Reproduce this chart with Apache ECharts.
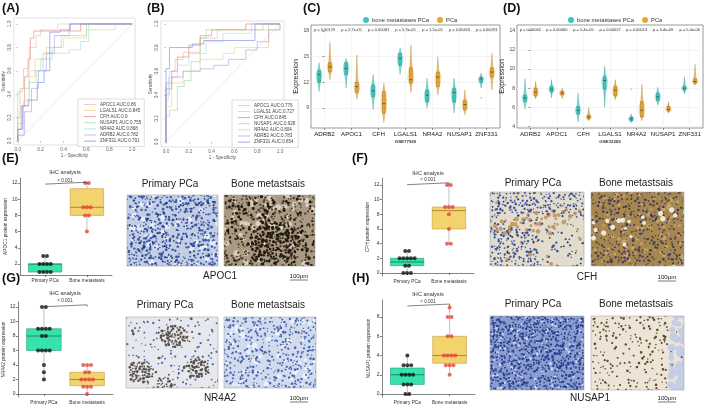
<!DOCTYPE html>
<html>
<head>
<meta charset="utf-8">
<script src="https://cdn.jsdelivr.net/npm/echarts@6/dist/echarts.min.js"></script>
<style>html,body{margin:0;padding:0;background:#fff}#main{width:709px;height:408px}</style>
</head>
<body>
<div id="main"></div>
<script>
var FONT = 'Liberation Sans, Arial, sans-serif';

// ---- ROC (A: GSE77930, B: GSE32269) ----
var rocGenes = ['APOC1', 'LGALS1', 'CFH', 'NUSAP1', 'NR4A2', 'ADRB2', 'ZNF331'];
var rocColors = ['#f5b39a', '#f3cc7c', '#ec7a74', '#9ad892', '#a3dbeb', '#b09be0', '#7482e2'];
var aucA = ['0.86', '0.845', '0.9', '0.755', '0.868', '0.782', '0.791'];
var aucB = ['0.776', '0.727', '0.845', '0.928', '0.804', '0.783', '0.854'];
var rocTicks = [0, 0.2, 0.4, 0.6, 0.8, 1];
var rocA_fpr = [
  [0, 0, 0.02, 0.05, 0.1, 0.16, 0.2, 0.35, 1],
  [0, 0, 0.05, 0.1, 0.15, 0.25, 0.4, 0.6, 0.85, 1],
  [0, 0, 0.03, 0.06, 0.09, 0.11, 0.14, 0.55, 1],
  [0, 0, 0.04, 0.1, 0.16, 0.22, 0.3, 0.38, 0.6, 1],
  [0, 0, 0.05, 0.1, 0.2, 0.3, 0.45, 0.55, 0.62, 1],
  [0, 0, 0.06, 0.12, 0.18, 0.25, 0.32, 0.45, 1],
  [0, 0, 0.04, 0.09, 0.17, 0.23, 0.28, 0.37, 0.46, 1]
];
var rocA_tpr = [
  [0, 0.2, 0.45, 0.62, 0.8, 0.9, 0.95, 1, 1],
  [0, 0.05, 0.3, 0.55, 0.7, 0.8, 0.88, 0.95, 1, 1],
  [0, 0.1, 0.3, 0.55, 0.7, 0.88, 0.94, 1, 1],
  [0, 0.42, 0.45, 0.5, 0.6, 0.75, 0.8, 0.9, 1, 1],
  [0, 0.15, 0.35, 0.6, 0.7, 0.75, 0.78, 0.85, 1, 1],
  [0, 0.05, 0.25, 0.45, 0.6, 0.75, 0.9, 1, 1],
  [0, 0.1, 0.3, 0.35, 0.5, 0.6, 0.93, 0.95, 1, 1]
];
var rocB_fpr = [
  [0, 0, 0.03, 0.08, 0.15, 0.3, 0.45, 0.9, 1],
  [0, 0, 0.05, 0.15, 0.3, 0.5, 0.6, 0.9, 1],
  [0, 0, 0.05, 0.1, 0.2, 0.3, 0.4, 0.7, 1],
  [0, 0, 0.03, 0.1, 0.16, 0.22, 0.3, 0.35, 0.85, 1],
  [0, 0, 0.02, 0.1, 0.2, 0.35, 0.5, 0.75, 1],
  [0, 0, 0.05, 0.15, 0.3, 0.42, 0.55, 0.7, 0.8, 0.9, 1],
  [0, 0, 0.03, 0.23, 0.33, 0.78, 1]
];
var rocB_tpr = [
  [0, 0.4, 0.6, 0.7, 0.76, 0.88, 0.95, 1, 1],
  [0, 0.3, 0.5, 0.6, 0.7, 0.75, 0.8, 0.95, 1],
  [0, 0.45, 0.6, 0.72, 0.82, 0.9, 0.95, 1, 1],
  [0, 0.22, 0.27, 0.47, 0.52, 0.68, 0.88, 0.95, 1, 1],
  [0, 0.35, 0.55, 0.65, 0.75, 0.85, 0.92, 1, 1],
  [0, 0.5, 0.55, 0.6, 0.62, 0.65, 0.7, 0.78, 0.85, 0.95, 1],
  [0, 0.62, 0.8, 0.83, 0.86, 1, 1]
];

// ---- violin panels (C: GSE77930, D: GSE32269), [min, q1, median, q3, max] ----
var genes = ['ADRB2', 'APOC1', 'CFH', 'LGALS1', 'NR4A2', 'NUSAP1', 'ZNF331'];
var groupNames = ['bone metastases PCa', 'PCa'];
var pC = ['p = 0.00129', 'p = 2.7e-05', 'p = 0.00081', 'p = 5.9e-05', 'p = 1.5e-05', 'p = 0.00416', 'p = 0.00093'];
var pD = ['p = 0.00062', 'p = 0.00060', 'p = 5.4e-05', 'p = 0.00027', 'p = 0.00013', 'p = 5.4e-09', 'p = 5.4e-06'];
var cBone = [[10.9, 12.0, 12.9, 13.4, 14.3], [11.3, 12.9, 13.6, 14.3, 14.8], [8.8, 10.3, 11.0, 11.7, 12.9],
  [12.9, 14.0, 14.8, 15.4, 16.0], [9.0, 9.7, 10.5, 11.1, 12.5], [8.4, 9.7, 10.8, 11.3, 12.5], [11.3, 12.0, 12.4, 12.6, 13.1]];
var cPca = [[12.3, 13.2, 13.8, 14.3, 16.7], [10.0, 10.8, 11.5, 12.0, 15.2], [7.3, 8.4, 9.5, 10.9, 11.9],
  [10.8, 11.9, 12.3, 13.7, 16.4], [10.5, 11.5, 12.6, 13.2, 15.0], [8.2, 8.8, 9.4, 9.9, 11.1], [11.1, 12.6, 13.2, 13.7, 15.4]];
var dBone = [[5.8, 6.6, 7.0, 7.3, 9.0], [7.0, 7.6, 7.9, 8.2, 8.9], [4.5, 5.3, 5.7, 6.1, 7.5],
  [6.0, 7.9, 8.8, 9.2, 10.3], [4.4, 4.6, 4.8, 5.0, 5.3], [6.2, 6.7, 7.1, 7.5, 8.1], [7.4, 7.8, 8.0, 8.2, 9.2]];
var dPca = [[6.9, 7.2, 7.6, 8.0, 8.7], [6.9, 7.3, 7.5, 7.7, 8.0], [4.6, 4.8, 5.0, 5.2, 6.0],
  [6.8, 7.2, 7.8, 8.2, 8.9], [4.6, 5.0, 5.7, 6.6, 8.4], [5.4, 5.6, 5.8, 6.1, 6.6], [8.3, 8.5, 8.7, 9.0, 10.5]];
var cBoneOut = [[6, 10.2]];
var dBoneOut = [[4, 7.9]];
var cTicks = [9, 12, 15, 18];
var dTicks = [4, 6, 8, 10, 12, 14];

// ---- IHC panels (E-H) ----
var ihcGroups = ['Primary PCa', 'Bone metastasis'];
var ePrim = [3, 3, 2, 2, 2, 2, 1, 1, 1, 1];
var eBone = [12, 12, 9, 9, 9, 8, 8, 6];
var eBox = [[1, 1, 2, 2, 3], [6, 8, 9, 11.3, 12]];
var fPrim = [3, 3, 2, 2, 2, 2, 2, 1, 1, 0, 0, 0];
var fBone = [12, 12, 9, 9, 9, 8, 6, 4, 4];
var fBox = [[0, 1, 1.5, 2, 3], [4, 6, 8.5, 9, 12]];
var gPrim = [12, 12, 9, 9, 9, 9, 8, 8, 6, 6, 6, 6, 4, 3, 2];
var gBone = [4, 4, 4, 3, 3, 2, 2, 2, 2, 1, 1, 1, 0];
var gBox = [[2, 6, 8, 9, 12], [0, 1.15, 2, 3, 4]];
var hPrim = [4, 3, 3, 3, 2, 2, 2, 2, 1, 1, 1, 0, 0];
var hBone = [9, 8, 8, 6, 6, 4, 4, 4, 4, 3, 3, 3, 2];
var hBox = [[0, 1, 2, 2.7, 4], [2, 3.2, 4, 6, 9]];
var sigLevel = [12.1, 12.3, 12.3, 9.35];
var ticks12 = [2, 4, 6, 8, 10, 12];
var ticks12z = [0, 2, 4, 6, 8, 10, 12];
var ticks8 = [0, 2, 4, 6, 8];

var chart = echarts.init(document.getElementById('main'));

var grids = [
  { left: 10, top: 18, width: 125, height: 127, show: true, borderColor: '#cfcfcf', borderWidth: 0.6 },
  { left: 161, top: 21, width: 123, height: 126, show: true, borderColor: '#cfcfcf', borderWidth: 0.6 },
  { left: 311, top: 25, width: 189, height: 103, show: true, borderColor: '#555', borderWidth: 0.6 },
  { left: 517, top: 25, width: 186, height: 103, show: true, borderColor: '#555', borderWidth: 0.6 },
  { left: 20, top: 178, width: 92, height: 97 },
  { left: 382, top: 178, width: 92, height: 98 },
  { left: 18, top: 302, width: 95, height: 95 },
  { left: 382, top: 300, width: 93, height: 97 }
];

function rocX(g, min, max) {
  return {
    type: 'value', gridIndex: g, min: min, max: max,
    axisLine: { show: false }, splitLine: { show: false },
    axisTick: { show: true, customValues: rocTicks, length: 2, lineStyle: { color: '#999', width: 0.5 } },
    axisLabel: { customValues: rocTicks, fontSize: 4.8, color: '#666', margin: 2, fontFamily: FONT,
      formatter: function (v) { return v.toFixed(1); } },
    name: '1 - Specificity', nameLocation: 'middle', nameGap: 7,
    nameTextStyle: { fontSize: 4.6, color: '#555', fontFamily: FONT }
  };
}
function rocY(g, min, max) {
  return {
    type: 'value', gridIndex: g, min: min, max: max,
    axisLine: { show: false }, splitLine: { show: false },
    axisTick: { show: true, customValues: rocTicks, length: 2, lineStyle: { color: '#999', width: 0.5 } },
    axisLabel: { customValues: rocTicks, fontSize: 4.8, color: '#666', margin: 2, rotate: 90, fontFamily: FONT,
      formatter: function (v) { return v.toFixed(1); } },
    name: 'Sensitivity', nameLocation: 'middle', nameGap: 6,
    nameTextStyle: { fontSize: 4.6, color: '#555', fontFamily: FONT }
  };
}
var catIdx = [0, 1, 2, 3, 4, 5, 6];
function violinX(g, gse) {
  return {
    type: 'value', gridIndex: g, min: -0.5, max: 6.5,
    axisLine: { show: false },
    axisTick: { show: true, customValues: catIdx, length: 2, lineStyle: { color: '#333', width: 0.5 } },
    axisLabel: { customValues: catIdx, fontSize: 6.2, color: '#222', margin: 3, fontFamily: FONT,
      formatter: function (v) { return genes[Math.round(v)]; } },
    splitLine: { show: true, lineStyle: { color: '#ececec', width: 0.6 } },
    name: gse, nameLocation: 'middle', nameGap: 12,
    nameTextStyle: { fontSize: 4.4, fontWeight: 'bold', color: '#333', fontFamily: FONT }
  };
}
function violinTop(g, labels) {
  return {
    type: 'value', gridIndex: g, position: 'top', min: -0.5, max: 6.5,
    axisLine: { show: false }, axisTick: { show: false }, splitLine: { show: false },
    axisLabel: { customValues: catIdx, inside: true, fontSize: 4, color: '#333', margin: 3, fontFamily: FONT,
      formatter: function (v) { return labels[Math.round(v)]; } }
  };
}
function violinY(g, min, max, tk) {
  return {
    type: 'value', gridIndex: g, min: min, max: max,
    axisLine: { show: false },
    axisTick: { show: true, customValues: tk, length: 2, lineStyle: { color: '#333', width: 0.5 } },
    axisLabel: { customValues: tk, fontSize: 5, color: '#444', margin: 2, fontFamily: FONT },
    splitLine: { show: true, lineStyle: { color: '#ececec', width: 0.6 } },
    name: 'Expression', nameLocation: 'middle', nameGap: 10,
    nameTextStyle: { fontSize: 7, color: '#222', fontFamily: FONT }
  };
}
function ihcX(g) {
  return {
    type: 'value', gridIndex: g, min: 0.4, max: 2.6,
    axisLine: { show: true, lineStyle: { color: '#333', width: 0.6 } },
    axisTick: { show: true, customValues: [1, 2], length: 2, lineStyle: { color: '#333', width: 0.6 } },
    axisLabel: { customValues: [1, 2], fontSize: 4.8, color: '#333', margin: 3, fontFamily: FONT,
      formatter: function (v) { return ihcGroups[Math.round(v) - 1]; } },
    splitLine: { show: false }
  };
}
function ihcY(g, min, max, tk, name) {
  return {
    type: 'value', gridIndex: g, min: min, max: max,
    axisLine: { show: true, lineStyle: { color: '#333', width: 0.6 } },
    axisTick: { show: true, customValues: tk, length: 2, lineStyle: { color: '#333', width: 0.6 } },
    axisLabel: { customValues: tk, fontSize: 5, color: '#333', margin: 2.5, fontFamily: FONT },
    splitLine: { show: false },
    name: name, nameLocation: 'middle', nameGap: 11,
    nameTextStyle: { fontSize: 4.8, color: '#333', fontFamily: FONT }
  };
}

var xAxes = [
  rocX(0, -0.034, 1.025), rocX(1, -0.044, 1.035),
  violinX(2, 'GSE77930'), violinTop(2, pC),
  violinX(3, 'GSE32269'), violinTop(3, pD),
  ihcX(4), ihcX(5), ihcX(6), ihcX(7)
];
var yAxes = [
  rocY(0, -0.034, 1.051), rocY(1, -0.042, 1.025),
  violinY(2, 6.66, 18.7, cTicks), violinY(3, 3.85, 14.6, dTicks),
  ihcY(4, 0.64, 12.62, ticks12, 'APOC1 protein expression'),
  ihcY(5, -0.41, 12.95, ticks12z, 'CFH protein expression'),
  ihcY(6, -0.41, 12.69, ticks12z, 'NR4A2 protein expression'),
  ihcY(7, -0.31, 9.77, ticks8, 'NUSAP1 protein expression')
];

var series = [];
var legends = [];

function addRoc(ax, fprs, tprs, aucs, legendLeft, legendTop) {
  var names = [];
  series.push({ type: 'line', name: 'ref' + ax, xAxisIndex: ax, yAxisIndex: ax, data: [[0, 0], [1, 1]],
    showSymbol: false, silent: true, lineStyle: { color: '#dcdcdc', width: 0.6 } });
  rocGenes.forEach(function (g, i) {
    var nm = g + ' AUC:' + aucs[i];
    names.push(nm);
    series.push({
      type: 'line', name: nm, xAxisIndex: ax, yAxisIndex: ax, step: 'end', showSymbol: false,
      data: fprs[i].map(function (x, k) { return [x, tprs[i][k]]; }),
      itemStyle: { color: rocColors[i] }, lineStyle: { color: rocColors[i], width: 0.6 }
    });
  });
  legends.push({
    data: names, left: legendLeft, top: legendTop, orient: 'vertical', icon: 'rect',
    itemWidth: 12, itemHeight: 0.7, itemGap: 1.1, selectedMode: false,
    textStyle: { fontSize: 4.5, color: '#444', fontFamily: FONT, padding: [0, 0, 0, -1] },
    backgroundColor: '#fff', borderColor: '#bbb', borderWidth: 0.5, padding: [3, 3, 3, 6]
  });
}
addRoc(0, rocA_fpr, rocA_tpr, aucA, 78, 99);
addRoc(1, rocB_fpr, rocB_tpr, aucB, 232, 100);

var teal = '#3cc6bd', tealLine = '#1f8c84', orange = '#e6a634', orangeLine = '#a06a10';
function violinSeries(name, stats, ax, yx, off, fill, line) {
  return {
    type: 'custom', name: name, xAxisIndex: ax, yAxisIndex: yx,
    itemStyle: { color: fill },
    data: stats.map(function (d, i) { return [i].concat(d); }),
    renderItem: function (params, api) {
      var i = api.value(0);
      var v = [1, 2, 3, 4, 5].map(function (k) { return api.value(k); });
      var unit = api.size([1, 0])[0];
      var cx = api.coord([i + off, v[2]])[0];
      var hw = unit * 0.125;
      var prof = [[v[0], 0], [v[0] + (v[1] - v[0]) * 0.4, 0.2], [v[1], 0.6], [(v[1] + v[2]) / 2, 0.9], [v[2], 1],
        [(v[2] + v[3]) / 2, 0.9], [v[3], 0.6], [v[4] - (v[4] - v[3]) * 0.4, 0.2], [v[4], 0]];
      var pts = [];
      prof.forEach(function (p) { pts.push([cx + hw * p[1], api.coord([i, p[0]])[1]]); });
      for (var k = prof.length - 2; k > 0; k--) pts.push([cx - hw * prof[k][1], api.coord([i, prof[k][0]])[1]]);
      var y = v.map(function (val) { return api.coord([i, val])[1]; });
      var bw = unit * 0.05;
      return { type: 'group', children: [
        { type: 'polygon', shape: { points: pts, smooth: 0.3 }, style: { fill: fill, opacity: 0.45 } },
        { type: 'line', shape: { x1: cx, y1: y[0], x2: cx, y2: y[4] }, style: { stroke: line, lineWidth: 0.5 } },
        { type: 'rect', shape: { x: cx - bw, y: y[3], width: 2 * bw, height: y[1] - y[3] },
          style: { fill: fill, stroke: line, lineWidth: 0.5 } },
        { type: 'line', shape: { x1: cx - bw, y1: y[2], x2: cx + bw, y2: y[2] }, style: { stroke: '#333', lineWidth: 0.7 } }
      ] };
    }
  };
}
function outlierSeries(pts, ax, yx, off, color) {
  return {
    type: 'custom', name: 'outlier', xAxisIndex: ax, yAxisIndex: yx, data: pts,
    renderItem: function (params, api) {
      var c = api.coord([api.value(0) + off, api.value(1)]);
      return { type: 'circle', shape: { cx: c[0], cy: c[1], r: 0.9 }, style: { fill: color, opacity: 0.6 } };
    }
  };
}
series.push(violinSeries(groupNames[0], cBone, 2, 2, -0.2, teal, tealLine));
series.push(violinSeries(groupNames[1], cPca, 2, 2, 0.2, orange, orangeLine));
series.push(outlierSeries(cBoneOut, 2, 2, -0.2, '#7fb8b4'));
series.push(violinSeries(groupNames[0], dBone, 4, 3, -0.2, teal, tealLine));
series.push(violinSeries(groupNames[1], dPca, 4, 3, 0.2, orange, orangeLine));
series.push(outlierSeries(dBoneOut, 4, 3, -0.2, '#9ab'));
[[358, 12], [563, 12]].forEach(function (p) {
  legends.push({ data: groupNames, left: p[0], top: p[1], icon: 'circle', itemWidth: 6, itemHeight: 6,
    itemGap: 8, selectedMode: false, textStyle: { fontSize: 5.8, color: '#333', fontFamily: FONT, padding: [0, 0, 0, -2] } });
});

// IHC boxes + points
var boxFill = ['#36e3ac', '#f2d36e'], boxLine = ['#2a9a78', '#c59a3a'], boxMed = ['#1e6e55', '#9a7420'];
function spread(vals, group) {
  var seen = {}, counts = {};
  vals.forEach(function (v) { counts[v] = (counts[v] || 0) + 1; });
  return vals.map(function (v) {
    seen[v] = (seen[v] || 0);
    var k = seen[v]++;
    return [group + (k - (counts[v] - 1) / 2) * 0.09, v];
  });
}
function addIhc(ax, box, prim, bone, sig) {
  var yi = ax - 2;
  series.push({
    type: 'custom', name: 'box' + ax, xAxisIndex: ax, yAxisIndex: yi,
    data: box.map(function (b, i) { return [i + 1].concat(b); }),
    renderItem: function (params, api) {
      var g = api.value(0), di = params.dataIndex;
      var p = [1, 2, 3, 4, 5].map(function (k) { return api.coord([g, api.value(k)]); });
      var hw = api.size([1, 0])[0] * 0.4, x = p[0][0];
      return { type: 'group', children: [
        { type: 'line', shape: { x1: x, y1: p[0][1], x2: x, y2: p[1][1] }, style: { stroke: '#999', lineWidth: 0.6 } },
        { type: 'line', shape: { x1: x, y1: p[3][1], x2: x, y2: p[4][1] }, style: { stroke: '#999', lineWidth: 0.6 } },
        { type: 'rect', shape: { x: x - hw, y: p[3][1], width: 2 * hw, height: p[1][1] - p[3][1] },
          style: { fill: boxFill[di], stroke: boxLine[di], lineWidth: 0.6 } },
        { type: 'line', shape: { x1: x - hw, y1: p[2][1], x2: x + hw, y2: p[2][1] }, style: { stroke: boxMed[di], lineWidth: 0.8 } }
      ] };
    }
  });
  series.push({ type: 'scatter', name: 'prim' + ax, xAxisIndex: ax, yAxisIndex: yi, data: spread(prim, 1),
    symbolSize: 4, itemStyle: { color: '#111' } });
  series.push({ type: 'scatter', name: 'bone' + ax, xAxisIndex: ax, yAxisIndex: yi, data: spread(bone, 2),
    symbolSize: 4, itemStyle: { color: '#e2443c' } });
  var d = (yAxes[yi].max - yAxes[yi].min) * 0.02;
  series.push({ type: 'line', name: 'sig' + ax, xAxisIndex: ax, yAxisIndex: yi, showSymbol: false, silent: true,
    data: [[1, sig - d], [1, sig], [2, sig], [2, sig - d]], lineStyle: { color: '#333', width: 0.6 } });
}
addIhc(6, eBox, ePrim, eBone, sigLevel[0]);
addIhc(7, fBox, fPrim, fBone, sigLevel[1]);
addIhc(8, gBox, gPrim, gBone, sigLevel[2]);
addIhc(9, hBox, hPrim, hBone, sigLevel[3]);

// ---- micrograph stand-ins (drawn textures) ----
function hash(a, b, c) { var s = Math.sin(a * 127.1 + b * 311.7 + c * 74.7) * 43758.5453; return s - Math.floor(s); }
function texture(w, h, base, layers, seed) {
  var cv = document.createElement('canvas');
  cv.width = w * 2; cv.height = h * 2;
  var ctx = cv.getContext('2d');
  ctx.scale(2, 2);
  ctx.fillStyle = base; ctx.fillRect(0, 0, w, h);
  layers.forEach(function (L, n) {
    ctx.fillStyle = L.c;
    ctx.globalAlpha = L.a || 1;
    for (var y = 0; y < h; y += L.s) {
      for (var x = 0; x < w; x += L.s) {
        var m = L.m ? L.m(x / w, y / h) : 1;
        if (hash(x, y, seed + n * 17) < L.d * m) {
          var px = x + hash(y, x, seed + n) * L.s, py = y + hash(x + 1, y + 2, seed + n * 3) * L.s;
          ctx.beginPath();
          ctx.arc(px, py, L.r * (0.6 + 0.7 * hash(x + 3, y, seed + n * 5)), 0, Math.PI * 2);
          ctx.fill();
        }
      }
    }
  });
  ctx.globalAlpha = 1;
  return cv;
}
function blob(cu, cv, rad) { return function (u, v) { var d = Math.hypot(u - cu, v - cv); return d < rad ? 1.6 : 0.35; }; }
var pics = [
  { x: 127, y: 195, w: 91, h: 71, tex: texture(91, 71, '#c3cde3', [
    { c: '#e9eef6', d: 0.3, r: 2.6, s: 7 }, { c: '#3a58a6', d: 0.6, r: 1.1, s: 3 }, { c: '#1f3478', d: 0.25, r: 0.9, s: 4 }], 1) },
  { x: 224, y: 195, w: 91, h: 71, tex: texture(91, 71, '#a99a82', [
    { c: '#d8d0c0', d: 0.5, r: 2.6, s: 6, m: function (u, v) { return v < 0.45 ? 1 : 0.2; } },
    { c: '#4e3d2c', d: 0.45, r: 1.0, s: 3 },
    { c: '#241a12', d: 0.8, r: 1.3, s: 3, m: blob(0.55, 0.65, 0.28) }], 2) },
  { x: 490, y: 192, w: 94, h: 74, tex: texture(94, 74, '#e2dccd', [
    { c: '#c49c62', d: 0.35, r: 1.8, s: 5, m: function (u, v) { return Math.abs(v - 0.45 + u * 0.2) < 0.12 ? 2 : 0.2; } },
    { c: '#3a4f9e', d: 0.45, r: 1.0, s: 3, m: function (u, v) { return (u < 0.5 && v > 0.45) || v < 0.25 ? 1.5 : 0.35; } },
    { c: '#222', d: 0.08, r: 0.8, s: 4 }], 3) },
  { x: 591, y: 192, w: 93, h: 74, tex: texture(93, 74, '#a8874f', [
    { c: '#c8a56a', d: 0.35, r: 1.6, s: 5 }, { c: '#3f3c5c', d: 0.5, r: 1.0, s: 3 },
    { c: '#eee8d8', d: 0.35, r: 2.2, s: 7, m: function (u, v) { return Math.abs(v - 0.35 + (u - 0.5) * 0.3) < 0.08 ? 1.5 : 0.1; } }], 4) },
  { x: 126, y: 317, w: 92, h: 71, tex: texture(92, 71, '#e6e8ee', [
    { c: '#4a66aa', d: 0.3, r: 0.9, s: 4 },
    { c: '#5b5247', d: 0.7, r: 1.1, s: 2.5, m: function (u, v) {
      return (Math.hypot(u - 0.5, v - 0.25) < 0.16 || Math.hypot(u - 0.15, v - 0.75) < 0.15 || Math.hypot(u - 0.75, v - 0.7) < 0.14 || Math.hypot(u - 0.4, v - 0.95) < 0.12) ? 1.2 : 0.05; } }], 5) },
  { x: 224, y: 317, w: 92, h: 71, tex: texture(92, 71, '#d2dbee', [
    { c: '#eef1f8', d: 0.25, r: 2.2, s: 6 }, { c: '#4565b0', d: 0.5, r: 1.0, s: 3 }], 6) },
  { x: 490, y: 316, w: 94, h: 74, tex: texture(94, 74, '#8a9dd0', [
    { c: '#d0d8ee', d: 0.3, r: 1.2, s: 4 }, { c: '#2b3f8e', d: 0.65, r: 1.0, s: 2.5 }], 7) },
  { x: 591, y: 316, w: 93, h: 74, tex: texture(93, 74, '#ece5d5', [
    { c: '#c5cde6', d: 0.9, r: 3.5, s: 5, m: function (u, v) { return u > 0.82 ? 1 : 0; } },
    { c: '#5e4834', d: 0.4, r: 1.0, s: 3.5, m: function (u, v) { return u < 0.8 ? 1 : 0.1; } }], 8) }
];

var graphics = [];
function txt(t, x, y, size, opts) {
  opts = opts || {};
  graphics.push({ type: 'text', x: x, y: y, silent: true, style: {
    text: t, fontSize: size, fontFamily: FONT, fontWeight: opts.bold ? 'bold' : 'normal', fill: opts.color || '#222',
    align: opts.align || 'center', verticalAlign: 'middle', textAlign: opts.align || 'center', textVerticalAlign: 'middle' } });
}
pics.forEach(function (p) {
  graphics.push({ type: 'image', x: p.x, y: p.y, silent: true, style: { image: p.tex, width: p.w, height: p.h } });
  graphics.push({ type: 'rect', x: p.x, y: p.y, silent: true, shape: { width: p.w, height: p.h },
    style: { fill: 'none', stroke: '#aaa', lineWidth: 0.6 } });
});
[['(A)', 2, 9], ['(B)', 147, 9], ['(C)', 303, 9], ['(D)', 503, 9],
 ['(E)', 2, 159], ['(F)', 352, 159], ['(G)', 2, 279], ['(H)', 352, 279]].forEach(function (l) {
  txt(l[0], l[1], l[2], 12.5, { bold: true, align: 'left', color: '#111' });
});
[[65, 172, 181], [428, 173, 180], [65, 293, 301], [428, 294, 302]].forEach(function (s) {
  txt('IHC analysis', s[0], s[1], 5.6, { color: '#333' });
  txt('< 0.001', s[0], s[2], 4.6, { color: '#333' });
});
[[170, 268, 184, 220, 276, 'APOC1'], [533, 636, 183, 587, 277, 'CFH'],
 [165, 268, 305, 220, 398, 'NR4A2'], [533, 636, 304, 590, 398, 'NUSAP1']].forEach(function (r) {
  txt('Primary PCa', r[0], r[2], 10, { color: '#222' });
  txt('Bone metastsais', r[1], r[2], 10, { color: '#222' });
  txt(r[5], r[3], r[4], 10, { color: '#222' });
});
[[299, 276], [667, 277], [299, 398], [667, 398]].forEach(function (s) {
  txt('100μm', s[0], s[1], 6.2, { color: '#222' });
  graphics.push({ type: 'line', silent: true, shape: { x1: s[0] - 9, y1: s[1] + 4, x2: s[0] + 9, y2: s[1] + 4 },
    style: { stroke: '#222', lineWidth: 0.6 } });
});

chart.setOption({
  animation: false,
  backgroundColor: '#fff',
  textStyle: { fontFamily: FONT },
  grid: grids,
  xAxis: xAxes,
  yAxis: yAxes,
  legend: legends,
  series: series,
  graphic: graphics
});
</script>
</body>
</html>
